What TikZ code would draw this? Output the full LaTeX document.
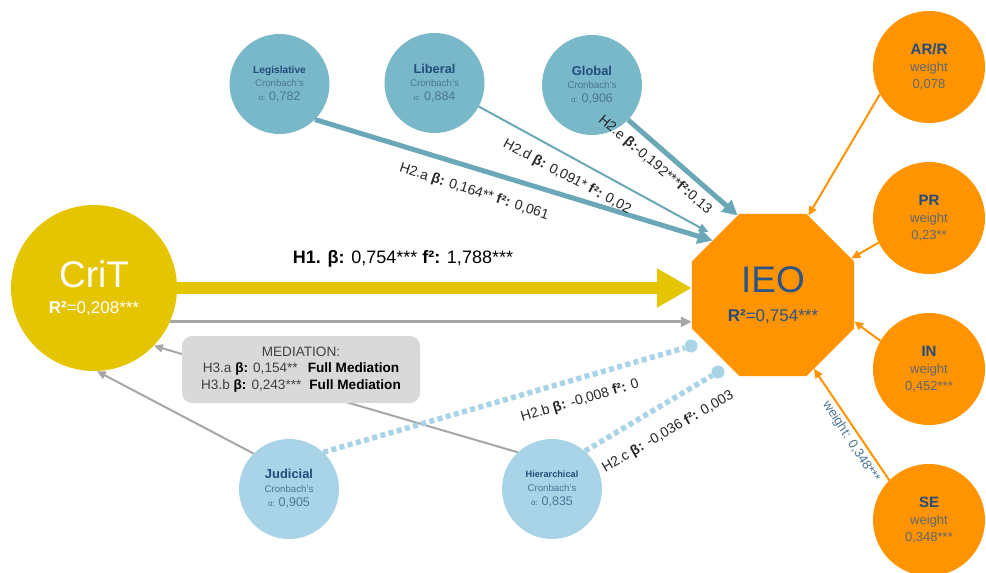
\documentclass[tikz,border=0pt]{standalone}
\usepackage{fontspec}
\setmainfont{Liberation Sans}
\usetikzlibrary{arrows.meta,shapes.geometric}
\definecolor{crityellow}{HTML}{E5C500}
\definecolor{ieoorange}{HTML}{FF9300}
\definecolor{topteal}{HTML}{79B8C9}
\definecolor{arrowteal}{HTML}{6AA7B7}
\definecolor{lowblue}{HTML}{A9D3E6}
\definecolor{linkgray}{HTML}{A6A6A6}
\definecolor{boxgray}{HTML}{D9D9D9}
\definecolor{navy}{HTML}{234C7C}
\definecolor{subblue}{HTML}{4B7696}
\definecolor{wgray}{HTML}{5E6873}
\definecolor{ieotext}{HTML}{2B5587}
\newcommand{\cronbach}[3]{{\fontsize{#2}{#2}\selectfont\bfseries\color{navy}#1}\\%
  {\fontsize{9.7}{10}\selectfont Cronbach's}\\%
  {\fontsize{8}{8}\selectfont α:} {\fontsize{12.5}{13}\selectfont #3}}
\newcommand{\bk}[1]{\textcolor{black}{\textbf{#1}}}

\tikzset{
  construct/.style={circle, inner sep=0pt, align=center},
  topc/.style={construct, fill=topteal, minimum size=100pt, text=subblue,
               font=\fontsize{10}{13.5}\selectfont},
  lowc/.style={construct, fill=lowblue, minimum size=100pt, text=subblue,
               font=\fontsize{10}{14}\selectfont},
  outc/.style={construct, fill=ieoorange, minimum size=112pt, text=wgray,
               font=\fontsize{13}{17}\selectfont},
  tealthick/.style={draw=arrowteal, line width=5pt, -{Triangle[length=15pt,width=15pt]}},
  tealthin/.style={draw=arrowteal, line width=2pt, -{Triangle[length=10pt,width=8pt]}},
  orangearrow/.style={draw=ieoorange, line width=2pt, -{Triangle[length=9pt,width=8pt]}},
  grayarrow/.style={draw=linkgray, line width=2pt, -{Triangle[length=9pt,width=8pt]}},
  dotline/.style={draw=lowblue, line width=5.5pt, dash pattern=on 5pt off 3.5pt},
  dotend/.style={circle, fill=lowblue, minimum size=13pt, inner sep=0pt},
  pathlbl/.style={font=\fontsize{14}{16}\selectfont, text=black!85, inner sep=0pt},
}

\begin{document}
\begin{tikzpicture}[x=1pt, y=-1pt]
  \useasboundingbox (0,0) rectangle (986,573);

  %% Central constructs
  \node[construct, fill=crityellow, minimum size=166pt, text=white,
        font=\fontsize{17}{26}\selectfont] (crit) at (94,288)
    {{\fontsize{37}{37}\selectfont CriT}\\\textbf{R²}=0,208***};
  \node[regular polygon, regular polygon sides=8, minimum size=175.4pt,
        inner sep=0pt, fill=ieoorange, align=center, text=ieotext,
        font=\fontsize{17}{29}\selectfont] (ieo) at (773,295)
    {{\fontsize{37}{37}\selectfont IEO}\\\textbf{\color{navy}R²}=0,754***};

  %% Dimensions of the triple helix (top)
  \node[topc] (leg) at (279.5,84) {\cronbach{Legislative}{10.2}{0,782}};
  \node[topc] (lib) at (434.5,83) {\cronbach{Liberal}{12.8}{0,884}};
  \node[topc] (glob) at (592,85) {\cronbach{Global}{12.9}{0,906}};

  %% Dimensions (bottom)
  \node[lowc] (jud) at (289,489) {\cronbach{Judicial}{12.9}{0,905}};
  \node[lowc] (hier) at (552,489) {\cronbach{Hierarchical}{9.2}{0,835}};

  %% Formative indicators of IEO
  \foreach \n/\y/\t/\wt in {arr/67/{AR/R}/{0,078}, pr/218/PR/{0,23**},
                            inr/369/IN/{0,452***}, se/520/SE/{0,348***}}
    \node[outc] (\n) at (929,\y)
      {{\fontsize{15}{15}\selectfont\bfseries\color{navy}\t}\\weight\\\wt};

  \foreach \n/\a/\b in {arr/209/66, pr/206/25, inr/150/-18, se/135/-61}
    \draw[orangearrow] (\n.\a) -- (ieo.\b);
  \node[font=\fontsize{13}{14}\selectfont, text=subblue, inner sep=0pt,
        rotate=-57] (sewt) at (851,442) {weight: 0,348***};

  %% Direct effect
  \draw[draw=crityellow, line width=12pt, -{Triangle[length=35pt,width=37pt]}]
    (crit.east) -- (ieo.west |- crit.east);
  \draw[grayarrow, line width=3pt, -{Triangle[length=11pt,width=10pt]}]
    (crit.-24) -- (ieo.west |- crit.-24);
  \node[font=\fontsize{18}{20}\selectfont] (h1) at (403,259)
    {\textbf{H1. β:} 0,754*** \textbf{f²:} 1,788***};

  %% Paths from the top dimensions
  \draw[tealthick] (leg.-45) -- (ieo.138);
  \draw[tealthin, shorten >=9pt] (lib.-28) -- (ieo.134);
  \draw[tealthick] (glob.-44) -- (ieo.114);

  %% Paths from the bottom dimensions (mediated)
  \draw[grayarrow] (jud.135) -- (crit.-88);
  \draw[grayarrow] (hier.133) -- (crit.-44);
  \node[dotend] (jdot) at (691,346) {};
  \node[dotend] (hdot) at (718,372) {};
  \draw[dotline] (jud.47) -- (jdot);
  \draw[dotline] (hier.49) -- (hdot);

  %% Mediation box
  \node[fill=boxgray, rounded corners=10pt, minimum width=238pt,
        minimum height=67pt, align=center, text=black!75,
        font=\fontsize{13.6}{16.5}\selectfont] (med) at (301,369.5)
    {MEDIATION:\\
     H3.a \bk{β:} 0,154**\hspace{10pt}\bk{Full Mediation}\\
     H3.b \bk{β:} 0,243***\hspace{8pt}\bk{Full Mediation}};

  %% Path labels
  \node[pathlbl, rotate=-18] (h2a) at (474,192)
    {H2.a \textbf{β:} 0,164** \textbf{f²:} 0,061};
  \node[pathlbl, rotate=-28] (h2d) at (567,177)
    {H2.d \textbf{β:} 0,091* \textbf{f²:} 0,02};
  \node[pathlbl, rotate=-40.5] (h2e) at (655,165)
    {H2.e \textbf{β:}-0,192***\textbf{f²:}0,13};
  \node[pathlbl, rotate=16.5] (h2b) at (580,401)
    {H2.b \textbf{β:} -0,008 \textbf{f²:} 0};
  \node[pathlbl, rotate=30] (h2c) at (668,432)
    {H2.c \textbf{β:} -0,036 \textbf{f²:} 0,003};
\end{tikzpicture}
\end{document}
